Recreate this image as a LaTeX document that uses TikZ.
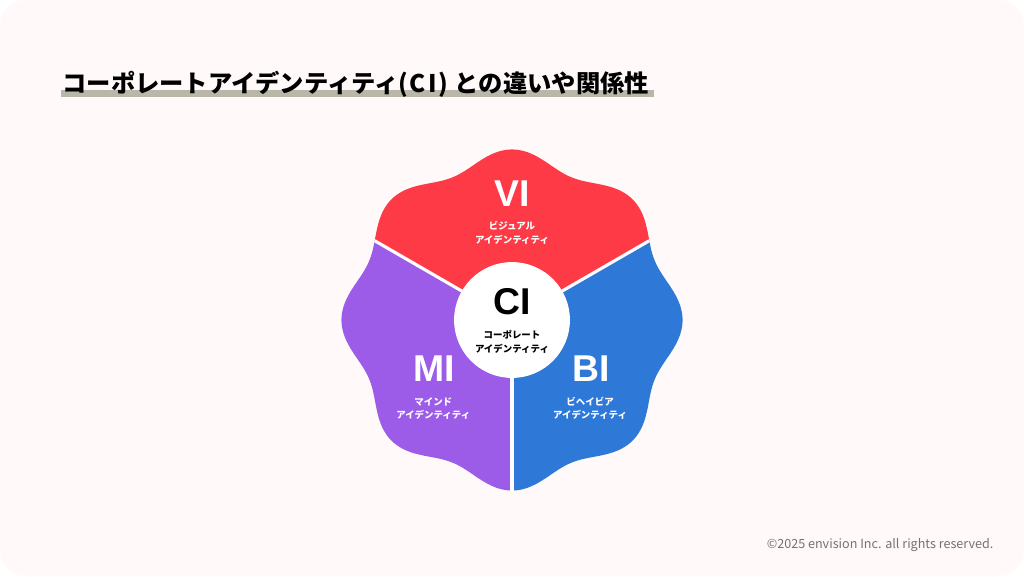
\documentclass[tikz,border=0pt]{standalone}
\usepackage{fontspec}
\setmainfont{Noto Sans CJK JP}
\newfontfamily\namefont{Liberation Sans}
\definecolor{paper}{HTML}{FFF9F9}
\definecolor{redpetal}{HTML}{FD3A46}
\definecolor{purplepetal}{HTML}{9C5CE8}
\definecolor{bluepetal}{HTML}{2E78D8}
\definecolor{barcolor}{HTML}{B9B7A7}
\tikzset{
	declare function={wavy(\t)=2.54+0.125*cos(8*\t);},
	cutline/.style={white,line width=1.4pt},
	bigname/.style={text=white,font=\fontsize{16.6}{17}\namefont\bfseries,inner sep=0},
	smallname/.style={text=white,font=\fontsize{4.2}{6}\selectfont\bfseries,align=center,inner sep=0},
}
\begin{document}
\begin{tikzpicture}
	\fill[white] (0,0) rectangle (16,9);
	\useasboundingbox (0,0) rectangle (16,9);
	\fill[paper,rounded corners=0.4cm] (0,0) rectangle (16,9);

	\fill[barcolor] (0.95,7.48) rectangle (10.22,7.6);
	\node[anchor=west,inner sep=0,font=\fontsize{10.8}{12}\selectfont\bfseries] (title) at (0.97,7.68) {コーポレートアイデンティティ(\kern.7pt C\kern1pt I\kern.7pt)\kern3pt との違いや関係性};

	\coordinate (mid) at (8,4);
	\fill[redpetal] (mid) -- plot[domain=30:150,samples=121,smooth] ({8+wavy(\x)*cos(\x)},{4+wavy(\x)*sin(\x)}) -- cycle;
	\fill[purplepetal] (mid) -- plot[domain=150:270,samples=121,smooth] ({8+wavy(\x)*cos(\x)},{4+wavy(\x)*sin(\x)}) -- cycle;
	\fill[bluepetal] (mid) -- plot[domain=270:390,samples=121,smooth] ({8+wavy(\x)*cos(\x)},{4+wavy(\x)*sin(\x)}) -- cycle;

	\coordinate (cutright) at (10.146,5.239);
	\coordinate (cutleft) at (5.854,5.239);
	\coordinate (cutdown) at (8,1.335);
	\draw[cutline] (mid) -- (cutright);
	\draw[cutline] (mid) -- (cutleft);
	\draw[cutline] (mid) -- (cutdown);

	\node[circle,fill=white,minimum size=1.81cm,inner sep=0] (ci) at (mid) {};

	\node[bigname] (vi) at (8,5.98) {VI};
	\node[smallname] (vitext) at (8,5.36) {ビジュアル\\アイデンティティ};
	\node[bigname] (mi) at (6.78,3.24) {MI};
	\node[smallname] (mitext) at (6.77,2.62) {マインド\\アイデンティティ};
	\node[bigname] (bi) at (9.23,3.24) {BI};
	\node[smallname] (bitext) at (9.22,2.62) {ビヘイビア\\アイデンティティ};
	\node[bigname,text=black] (cilabel) at (8,4.28) {CI};
	\node[smallname,text=black] (citext) at (8,3.66) {コーポレート\\アイデンティティ};

	\node[anchor=east,inner sep=0,text=black!55,font=\fontsize{5.6}{7}\selectfont] (copy) at (15.53,0.48) {©2025 envision Inc. all rights reserved.};
\end{tikzpicture}
\end{document}
